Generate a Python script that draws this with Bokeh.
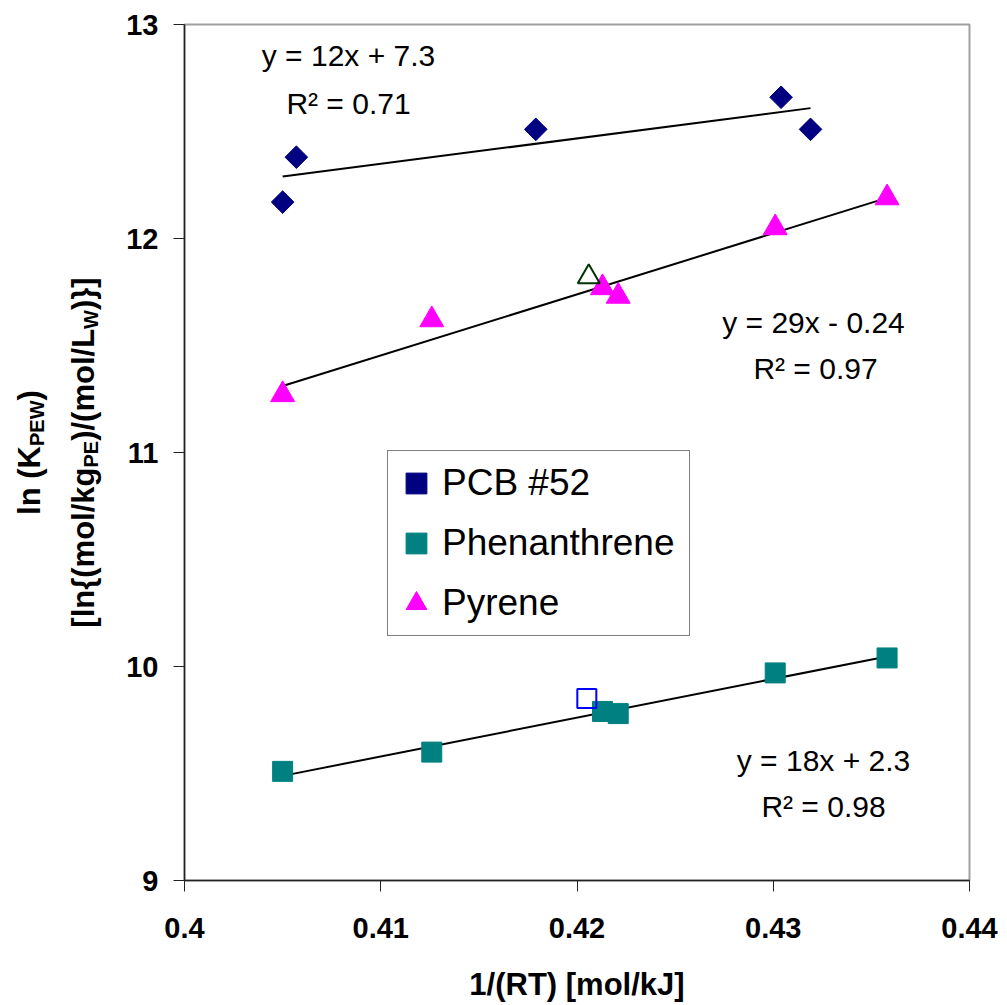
import numpy as np
from bokeh.plotting import figure
from bokeh.layouts import row
from bokeh.models import Label, Legend, LegendItem, FixedTicker, Range1d
from bokeh.embed import file_html
from bokeh.resources import INLINE

# ---------------- data ----------------
x_pcb = [0.4050, 0.4057, 0.4179, 0.4304, 0.4319]
y_pcb = [12.17, 12.38, 12.51, 12.66, 12.51]

x_phe = [0.4050, 0.4126, 0.4213, 0.4221, 0.4301, 0.4358]
y_phe = [9.51, 9.60, 9.79, 9.78, 9.97, 10.04]

x_pyr = [0.4050, 0.4126, 0.4213, 0.4221, 0.4301, 0.4358]
y_pyr = [11.27, 11.62, 11.77, 11.73, 12.05, 12.19]

x_pyr_open = [0.4206]
y_pyr_open = [11.82]
x_phe_open = [0.4205]
y_phe_open = [9.85]

series_names = ["PCB #52", "Phenanthrene", "Pyrene"]
fit_eqs = ["y = 12x + 7.3", "y = 18x + 2.3", "y = 29x - 0.24"]
fit_r2 = ["R\u00b2 = 0.71", "R\u00b2 = 0.98", "R\u00b2 = 0.97"]

x_ticks = [0.40, 0.41, 0.42, 0.43, 0.44]
x_tick_labels = ["0.4", "0.41", "0.42", "0.43", "0.44"]
y_ticks = [9, 10, 11, 12, 13]

x_title = "1/(RT) [mol/kJ]"
y_title_1 = [("ln (K", "main"), ("PEW", "sub"), (")", "main")]
y_title_2 = [("[ln{(mol/kg", "main"), ("PE", "sub"), (")/(mol/L", "main"),
             ("W", "sub"), (")}]", "main")]

# ---------------- layout ----------------
W, H = 1007, 1005
LW = 110                      # width of the side panel holding the y title
BL, BR, BT, BB = 184, 38, 24, 125
FW, FH = W - BL - BR, H - BT - BB
X0, X1, Y0, Y1 = 0.40, 0.44, 9.0, 13.0
px_x = FW / (X1 - X0)
px_y = FH / (Y1 - Y0)

FONT = "Liberation Sans"

p = figure(width=W - LW, height=H, x_range=Range1d(X0, X1), y_range=Range1d(Y0, Y1),
           output_backend="svg", toolbar_location=None, title=None,
           min_border_left=BL - LW, min_border_right=BR, min_border_top=BT,
           min_border_bottom=BB)
p.background_fill_color = "white"
p.border_fill_color = "white"
p.outline_line_color = "#a0a0a0"
p.outline_line_width = 2
p.xgrid.visible = False
p.ygrid.visible = False

for ax in (p.xaxis[0], p.yaxis[0]):
    ax.axis_line_color = "#222222"
    ax.axis_line_width = 1.5
    ax.major_tick_line_color = "#222222"
    ax.major_tick_in = 0
    ax.major_tick_out = 11
    ax.minor_tick_line_color = None
    ax.major_label_text_font = FONT
    ax.major_label_text_font_style = "bold"
    ax.major_label_text_font_size = "29px"
    ax.major_label_text_color = "black"

p.xaxis.ticker = FixedTicker(ticks=x_ticks)
p.xaxis.major_label_overrides = {t: s for t, s in zip(x_ticks, x_tick_labels)}
p.xaxis.major_label_standoff = 26
p.xaxis.axis_label = x_title
p.xaxis.axis_label_text_font = FONT
p.xaxis.axis_label_text_font_style = "bold"
p.xaxis.axis_label_text_font_size = "31px"
p.xaxis.axis_label_text_color = "black"
p.xaxis.axis_label_standoff = 26

p.yaxis.ticker = FixedTicker(ticks=y_ticks)
p.yaxis.major_label_standoff = 15

# ---------------- trend lines ----------------
for xs, ys in ((x_pcb, y_pcb), (x_phe, y_phe), (x_pyr, y_pyr)):
    k, b = np.polyfit(xs, ys, 1)
    lx = [min(xs), max(xs)]
    p.line(lx, [k * v + b for v in lx], line_color="black", line_width=2)

# ---------------- markers ----------------
r_pcb = p.scatter(x_pcb, y_pcb, marker="square", angle=np.pi / 4, size=16,
                  fill_color="#000080", line_color="#000080")
r_phe = p.scatter(x_phe, y_phe, marker="square", size=20,
                  fill_color="#008080", line_color="#008080")
r_pyr = p.scatter(x_pyr, y_pyr, marker="triangle", size=24,
                  fill_color="#FF00FF", line_color="#FF00FF")
p.scatter(x_pyr_open, y_pyr_open, marker="triangle", size=22,
          fill_color=None, line_color="#003300", line_width=2)
p.scatter(x_phe_open, y_phe_open, marker="square", size=19,
          fill_color=None, line_color="#0000FF", line_width=2)

# ---------------- legend ----------------
legend = Legend(items=[LegendItem(label=n, renderers=[r]) for n, r in
                       zip(series_names, (r_pcb, r_phe, r_pyr))],
                location=(203, 244))
legend.label_text_font = FONT
legend.label_text_font_size = "37px"
legend.label_text_color = "black"
legend.glyph_width = 52
legend.glyph_height = 60
legend.label_height = 60
legend.label_width = 245
legend.label_standoff = 0
legend.spacing = 0
legend.padding = 2
legend.margin = 0
legend.border_line_color = "black"
legend.border_line_width = 1
legend.background_fill_color = "white"
legend.background_fill_alpha = 1
p.add_layout(legend, "center")

# ---------------- fit annotations ----------------
ann_pos = [((348, 55), (348, 103)), ((823, 760), (823, 806)), ((813, 322), (815, 368))]
for (eq, r2, ((ex, ey), (rx, ry))) in zip(fit_eqs, fit_r2, ann_pos):
    for txt, sx, sy in ((eq, ex, ey), (r2, rx, ry)):
        p.add_layout(Label(x=X0 + (sx - BL) / px_x, y=Y1 - (sy - BT) / px_y, text=txt,
                           text_font=FONT, text_font_size="30px", text_color="black",
                           text_align="center", text_baseline="middle"))

# ---------------- y axis title (side panel, rotated, with subscripts) ----------------
# The side panel shares the vertical frame of the main plot (same borders and range),
# so its frame stays aligned with the main frame.
t = figure(width=LW, height=H, x_range=Range1d(0, LW), y_range=Range1d(Y0, Y1),
           output_backend="svg", toolbar_location=None, title=None,
           x_axis_location=None, y_axis_location=None,
           min_border_left=0, min_border_right=0, min_border_top=BT, min_border_bottom=BB)
t.outline_line_color = None
t.xgrid.visible = False
t.ygrid.visible = False
t.background_fill_color = "white"
t.border_fill_color = "white"

BOLD_W = {" ": 278, "(": 333, ")": 333, "[": 333, "]": 333, "{": 389, "}": 389,
          "/": 278, "l": 278, "n": 611, "K": 722, "P": 667, "E": 667, "W": 944,
          "m": 889, "o": 611, "k": 556, "g": 611, "L": 611}
MAIN, SUB = 31, 20


def tw(s, size):
    return sum(BOLD_W.get(c, 600) for c in s) / 1000.0 * size


def draw_rotated(pieces, base_px):
    sizes = [MAIN if kind == "main" else SUB for _, kind in pieces]
    total = sum(tw(s, sz) for (s, _), sz in zip(pieces, sizes))
    start = FH / 2 - total / 2        # px from the bottom of the frame
    off = 0.0
    for (s, kind), sz in zip(pieces, sizes):
        w = tw(s, sz)
        baseline = base_px + (3 if kind == "sub" else 0)
        cx = baseline - 0.35 * sz     # glyph tops point left after rotation
        t.add_layout(Label(x=cx, y=Y0 + (start + off + w / 2) / px_y, text=s,
                           angle=np.pi / 2, text_font=FONT, text_font_style="bold",
                           text_font_size=f"{sz}px", text_color="black",
                           text_align="center", text_baseline="middle"))
        off += w


draw_rotated(y_title_1, 40)
draw_rotated(y_title_2, 94)

layout = row(t, p, spacing=0)
open("out.html", "w").write(file_html(layout, INLINE))
